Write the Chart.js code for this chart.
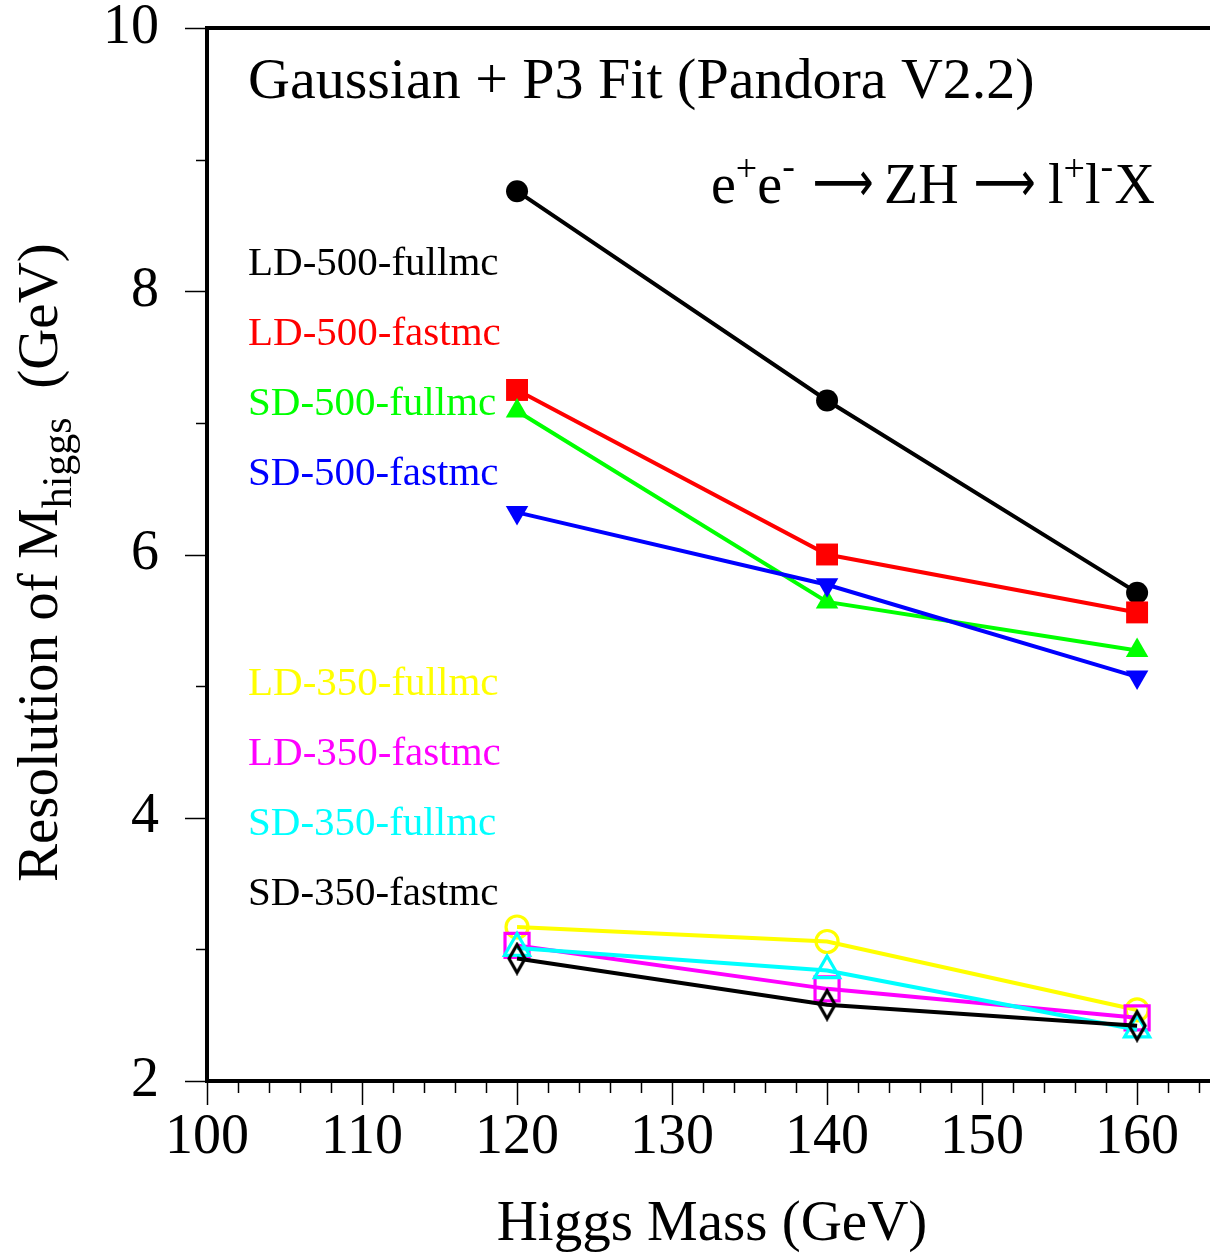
<!DOCTYPE html>
<html><head><meta charset="utf-8">
<script src="https://cdn.jsdelivr.net/npm/chart.js@4.4.0/dist/chart.umd.min.js"></script>
<style>html,body{margin:0;padding:0;background:#fff;overflow:hidden}#wrap{width:1210px;height:1255px}</style>
</head><body><div id="wrap"><canvas id="c" width="1210" height="1255"></canvas></div>
<script>
// ---- data ----
const higgsMass = [120, 140, 160];
const seriesNames = ["LD-500-fullmc","LD-500-fastmc","SD-500-fullmc","SD-500-fastmc",
                     "LD-350-fullmc","LD-350-fastmc","SD-350-fullmc","SD-350-fastmc"];
const ld500full = [8.76, 7.17, 5.71];
const ld500fast = [7.25, 6.00, 5.56];
const sd500full = [7.09, 5.64, 5.27];
const sd500fast = [6.32, 5.77, 5.07];
const ld350full = [3.17, 3.06, 2.54];
const ld350fast = [3.03, 2.70, 2.48];
const sd350full = [3.01, 2.84, 2.39];
const sd350fast = [2.93, 2.58, 2.42];
const xTickLabels = [100, 110, 120, 130, 140, 150, 160];
const yTickLabels = [2, 4, 6, 8, 10];
const titleText = "Gaussian + P3 Fit (Pandora V2.2)";

const FONT = '"Liberation Serif", "Times New Roman", serif';

// diamond marker
function diamond(color){
  const c = document.createElement('canvas'); c.width = 22; c.height = 34;
  const g = c.getContext('2d'); g.strokeStyle = color; g.lineWidth = 3.2; g.lineJoin='miter';
  g.beginPath(); g.moveTo(11,3); g.lineTo(19,17); g.lineTo(11,31); g.lineTo(3,17); g.closePath(); g.stroke();
  return c;
}

const seriesData = [ld500full, ld500fast, sd500full, sd500fast, ld350full, ld350fast, sd350full, sd350fast];
const colors = ['#000000','#ff0000','#00ff00','#0000ff','#ffff00','#ff00ff','#00ffff','#000000'];
const styles = [
  {pointStyle:'circle', r:11, filled:true, rot:0},
  {pointStyle:'rect', r:15.5, filled:true, rot:0},
  {pointStyle:'triangle', r:13, filled:true, rot:0},
  {pointStyle:'triangle', r:13, filled:true, rot:180},
  {pointStyle:'circle', r:11, filled:false, rot:0},
  {pointStyle:'rect', r:17, filled:false, rot:0},
  {pointStyle:'triangle', r:14.5, filled:false, rot:0},
  {pointStyle:diamond('#000000'), r:12, filled:false, rot:0},
];

const datasets = seriesData.map((vals, i) => ({
  label: seriesNames[i],
  data: higgsMass.map((x, k) => ({x: x, y: vals[k]})),
  borderColor: colors[i],
  borderWidth: 4,
  backgroundColor: colors[i],
  pointStyle: styles[i].pointStyle,
  pointRadius: styles[i].r,
  pointRotation: styles[i].rot,
  pointBackgroundColor: styles[i].filled ? colors[i] : 'rgba(0,0,0,0)',
  pointBorderColor: colors[i],
  pointBorderWidth: styles[i].filled ? 0.01 : 3.2,
  tension: 0,
  fill: false,
  clip: false,
  order: 7 - i
}));

const framePlugin = {
  id: 'frame',
  afterDraw(chart) {
    const ctx = chart.ctx, ca = chart.chartArea;
    const xs = chart.scales.x, ys = chart.scales.y;
    const W = chart.width;
    ctx.save();
    ctx.strokeStyle = '#000'; ctx.lineWidth = 1.5;
    // x ticks
    for (let v = 100; v <= 170; v += 2) {
      const p = xs.getPixelForValue(v);
      if (p > W) break;
      const px = Math.round(p) + 0.5;
      const len = (v % 10 === 0) ? 24 : 12;
      ctx.beginPath(); ctx.moveTo(px, ca.bottom); ctx.lineTo(px, ca.bottom + len); ctx.stroke();
    }
    // y ticks
    for (let v = 2; v <= 10; v += 1) {
      const py = Math.round(ys.getPixelForValue(v)) + 0.5;
      const len = (v % 2 === 0) ? 22 : 11;
      ctx.beginPath(); ctx.moveTo(ca.left, py); ctx.lineTo(ca.left - len, py); ctx.stroke();
    }
    // frame
    ctx.lineWidth = 4;
    ctx.beginPath();
    ctx.moveTo(W + 5, ca.top); ctx.lineTo(ca.left, ca.top); ctx.lineTo(ca.left, ca.bottom); ctx.lineTo(W + 5, ca.bottom);
    ctx.stroke();

    // texts
    ctx.fillStyle = '#000';
    ctx.textBaseline = 'alphabetic'; ctx.textAlign = 'left';
    ctx.font = '58px ' + FONT;
    ctx.fillText(titleText, 248, 98);

    // reaction
    const y = 203;
    const put = (t, x, dy, size, fam) => { ctx.font = size + 'px ' + (fam || FONT); ctx.fillText(t, x, y + dy); return x + ctx.measureText(t).width; };
    let x = 711;
    x = put('e', x, 0, 56); x = put('+', x, -22, 38); x = put('e', x, 0, 56); put('-', x, -24, 38);
    // arrows: glyph scaled so its ink spans x0..x1
    const arrow = (x0, x1) => {
      ctx.save(); ctx.font = '56px "DejaVu Sans", ' + FONT;
      const m = ctx.measureText('\u27F6');
      const ink = m.actualBoundingBoxRight + m.actualBoundingBoxLeft;
      const s = (x1 - x0) / ink;
      ctx.translate(x0, y - 2); ctx.scale(s, 1);
      ctx.fillText('\u27F6', m.actualBoundingBoxLeft, 0); ctx.restore();
    };
    arrow(815, 872);
    put('ZH', 884, 0, 56);
    arrow(976, 1034);
    x = 1048;
    x = put('l', x, 0, 56); x = put('+', x, -22, 38); x = put('l', x, 0, 56); put('-', x, -24, 38);
    put('X', x + 14, 0, 56);

    // legend labels
    const baselines = [275, 345, 415, 485, 695, 765, 835, 905];
    ctx.font = '41px ' + FONT;
    seriesNames.forEach((n, i) => { ctx.fillStyle = colors[i]; ctx.fillText(n, 248, baselines[i]); });

    // y-axis title
    ctx.fillStyle = '#000';
    ctx.save();
    ctx.translate(57, 882); ctx.rotate(-Math.PI / 2);
    let tx = 0;
    ctx.font = '57px ' + FONT; ctx.fillText('Resolution of M', tx, 0); tx += ctx.measureText('Resolution of M').width;
    ctx.font = '42px ' + FONT; ctx.fillText('higgs', tx, 14); tx += ctx.measureText('higgs').width;
    ctx.font = '57px ' + FONT; ctx.fillText('  (GeV)', tx, 0);
    ctx.restore();

    // x-axis title
    ctx.font = '57px ' + FONT; ctx.textAlign = 'center';
    ctx.fillText('Higgs Mass (GeV)', 712, 1240);
    ctx.restore();
  }
};

new Chart(document.getElementById('c'), {
  type: 'line',
  data: { datasets },
  options: {
    responsive: false,
    animation: false,
    devicePixelRatio: 1,
    layout: { padding: { top: 28, right: 0, left: 0, bottom: 0 } },
    plugins: { legend: { display: false }, tooltip: { enabled: false }, title: { display: false } },
    scales: {
      x: {
        type: 'linear', min: 100, max: 163.4,
        afterBuildTicks: s => { s.ticks = xTickLabels.map(v => ({ value: v })); },
        afterFit: s => { s.height = 174; s.paddingLeft = 0; s.paddingRight = 0; },
        grid: { display: false }, border: { display: false },
        ticks: { color: '#000', font: { family: FONT, size: 56 }, padding: 16, maxRotation: 0, autoSkip: false }
      },
      y: {
        type: 'linear', min: 2, max: 10,
        afterBuildTicks: s => { s.ticks = yTickLabels.map(v => ({ value: v })); },
        afterFit: s => { s.width = 207; s.paddingTop = 0; s.paddingBottom = 0; },
        grid: { display: false }, border: { display: false },
        ticks: { color: '#000', font: { family: FONT, size: 56 }, padding: 40, autoSkip: false }
      }
    }
  },
  plugins: [framePlugin]
});
</script></body></html>
